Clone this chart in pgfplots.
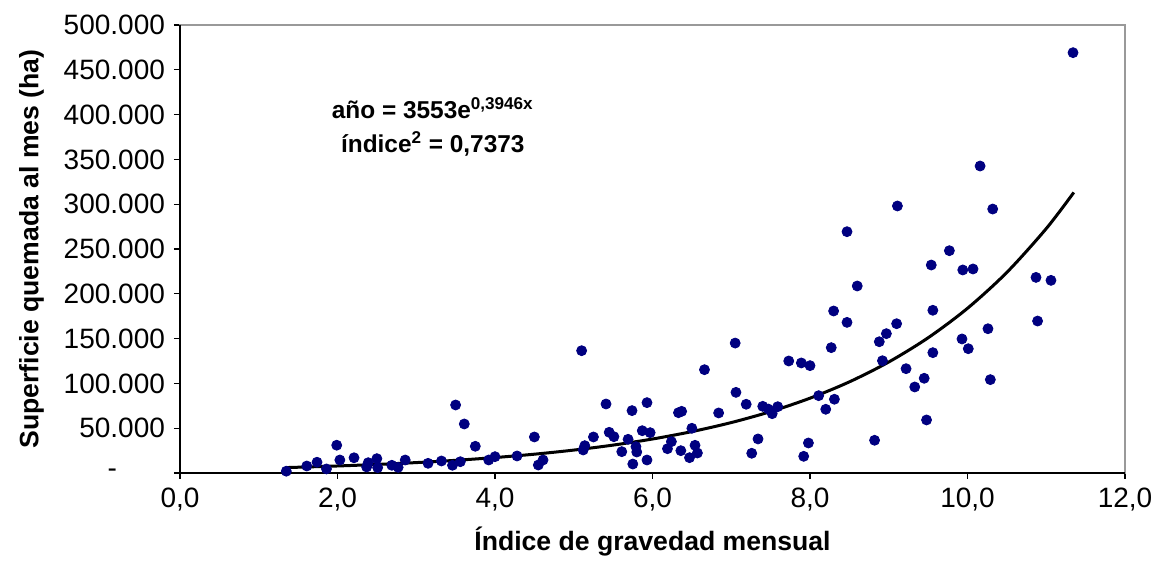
\documentclass[border=0pt]{standalone}
\usepackage{fontspec}
\setmainfont{Liberation Sans}
\usepackage{pgfplots}
\pgfplotsset{compat=1.18}

\definecolor{dotblue}{HTML}{000080}

\begin{document}
\begin{tikzpicture}
\path[use as bounding box] (-90pt,-46pt) rectangle (486.5pt,236.5pt);
\begin{axis}[
    scale only axis,
    width=472.5pt,
    height=224pt,
    at={(0,0)}, anchor=south west,
    xmin=0, xmax=12,
    ymin=0, ymax=500000,
    xtick={0,2,...,12},
    xticklabels={{0,0},{2,0},{4,0},{6,0},{8,0},{10,0},{12,0}},
    ytick={0,50000,...,500000},
    yticklabels={{-\hspace*{24pt}},50.000,100.000,150.000,200.000,250.000,300.000,350.000,400.000,450.000,500.000},
    scaled y ticks=false,
    xtick pos=bottom, ytick pos=left,
    tick align=outside,
    major tick length=3pt,
    tick style={black, line width=0.6pt},
    axis line style={gray!80, line width=0.6pt},
    ticklabel style={font=\fontsize{14}{16}\selectfont},
    xticklabel style={yshift=-1pt},
    yticklabel style={xshift=-1pt},
    xlabel={\textbf{Índice de gravedad mensual}},
    ylabel={\textbf{Superficie quemada al mes (ha)}},
    label style={font=\fontsize{13.3}{15}\selectfont},
    xlabel style={yshift=-1pt},
    ylabel style={yshift=3pt},
    clip=false,
]
\addplot[only marks, mark=*, mark size=2.5pt, color=dotblue] table {
x y
1.35 2000
1.61 7800
1.74 12000
1.86 4500
1.99 31000
2.03 14500
2.21 17000
2.37 6700
2.39 11500
2.50 16000
2.51 6000
2.69 8600
2.77 6300
2.86 14500
3.15 10800
3.32 13400
3.46 8600
3.50 75900
3.56 12600
3.61 54700
3.75 29800
3.92 14500
4.00 18200
4.28 19000
4.50 40200
4.55 8900
4.61 14500
5.10 136500
5.12 25700
5.14 30500
5.25 40200
5.41 77000
5.45 45400
5.51 40500
5.61 23800
5.69 37600
5.74 69600
5.75 10000
5.79 29400
5.80 23400
5.87 47200
5.93 78500
5.93 14500
5.97 45000
6.19 27100
6.24 35000
6.33 67300
6.37 68800
6.36 24900
6.47 17100
6.50 49900
6.54 30900
6.57 22300
6.66 115300
6.84 67000
7.05 145000
7.06 90000
7.19 76700
7.26 22000
7.34 38000
7.40 74400
7.47 71400
7.52 66200
7.59 74000
7.73 125000
7.89 122800
8.00 119800
7.92 18600
7.98 33500
8.11 86300
8.20 71100
8.31 82300
8.27 139900
8.30 180800
8.47 269300
8.47 168100
8.60 208700
8.82 36500
8.88 146500
8.92 125300
8.97 155500
9.10 166600
9.11 298000
9.22 116400
9.33 96000
9.45 105700
9.48 59200
9.54 232100
9.56 134300
9.56 181600
9.77 248100
9.93 149600
9.94 226600
10.01 138700
10.07 227700
10.16 342600
10.26 161000
10.29 104200
10.32 294600
10.87 218300
10.89 169600
11.06 215000
11.34 469100
};
% exponential trend line, tabulated
\addplot[black, line width=1.5pt, smooth] table {
x y
1.35 6053
1.5 6422
2.0 7823
2.5 9528
3.0 11607
3.5 14138
4.0 17222
4.5 20978
5.0 25553
5.5 31127
6.0 37917
6.5 46189
7.0 56262
7.5 68534
8.0 83485
8.5 101697
9.0 123882
9.5 150903
10.0 183814
10.5 223910
11.0 272764
11.35 313126
};
\draw[black, line width=0.6pt] (rel axis cs:0,1) -- (rel axis cs:0,0) -- (rel axis cs:1,0);
\node[font=\bfseries\fontsize{12.2}{14}\selectfont, align=center] at (axis cs:3.21,386000)
  {año = 3553e\textsuperscript{0,3946x}\\[3pt] índice\textsuperscript{2} = 0,7373};
\end{axis}
\end{tikzpicture}
\end{document}
